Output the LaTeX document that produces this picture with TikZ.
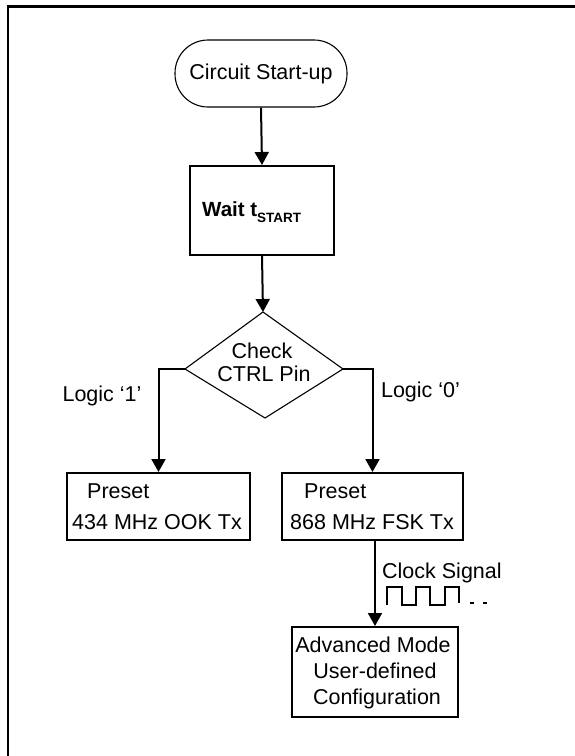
\documentclass[tikz,border=0pt]{standalone}
\usepackage{fontspec}
\setmainfont{Liberation Sans}
\usetikzlibrary{arrows.meta}
\begin{document}
\begin{tikzpicture}[x=1pt,y=-1pt,
  every node/.style={font=\fontsize{21.5}{25}\selectfont, inner sep=0pt},
  flowbox/.style={draw, line width=2pt, inner sep=0pt},
  txt/.style={anchor=base},
  txtw/.style={anchor=base west},
  arr/.style={line width=2pt, -{Triangle[length=13pt,width=14pt]}},
  thin line/.style={line width=1.1pt}
  ]
\useasboundingbox (0,0) rectangle (575,756);
\draw[line width=2.5pt] (8,756) -- (8,6.5) -- (575,6.5);

% terminal
\node[draw, thin line, minimum width=172pt, minimum height=67pt, rounded corners=33pt] (start) at (261,73.5) {Circuit Start-up};

% wait box
\node[flowbox, minimum width=144pt, minimum height=89pt] (wait) at (262,210.5) {};
\node[txtw, font=\fontsize{20.5}{25}\selectfont\bfseries] (waittxt) at (202,216) {Wait t\raisebox{-6pt}{\fontsize{13.5}{14}\selectfont START}};

% decision diamond
\coordinate (dt) at (263,312);
\coordinate (dr) at (343,369);
\coordinate (db) at (265,418);
\coordinate (dl) at (185,369);
\draw[thin line] (dt) -- (dr) -- (db) -- (dl) -- cycle;
\node[txt] (check1) at (262,358) {Check};
\node[txt] (check2) at (264,381) {CTRL Pin};

% preset boxes
\node[flowbox, minimum width=183pt, minimum height=67pt] (pl) at (158.5,506.5) {};
\node[txtw] (pl1) at (87,498) {Preset};
\node[txtw] (pl2) at (72,529) {434 MHz OOK Tx};
\node[flowbox, minimum width=181pt, minimum height=67pt] (pr) at (372.5,506.5) {};
\node[txtw] (pr1) at (304,498) {Preset};
\node[txtw] (pr2) at (290,529) {868 MHz FSK Tx};

% advanced box
\node[flowbox, minimum width=166pt, minimum height=90pt] (adv) at (375,672) {};
\node[txt] (adv1) at (373,652) {Advanced Mode};
\node[txt] (adv2) at (375,678) {User-defined};
\node[txt] (adv3) at (377,704) {Configuration};

% labels
\node[txt] (l1) at (102,401) {Logic ‘1’};
\node[txt] (l0) at (420.5,397) {Logic ‘0’};
\node[txtw] (clk) at (382,578) {Clock Signal};

% clock waveform
\draw[line width=2pt] (387,605) -- (387,587.3) -- (401.7,587.3) -- (401.7,605) -- (416,605) -- (416,587.3) -- (430,587.3) -- (430,605) -- (445,605) -- (445,587.3) -- (459.3,587.3) -- (459.3,603);
\draw[line width=2pt] (470,603) -- (473.5,603);
\draw[line width=2pt] (483.3,603) -- (486.8,603);

% connectors
\draw[arr] (start.south) -- (wait.north);
\draw[arr] (wait.south) -- (dt);
\draw[arr] (dl) -| (pl.north);
\draw[arr] (dr) -| (pr.north);
\draw[arr] (adv.north |- pr.south) -- (adv.north);
\end{tikzpicture}
\end{document}
